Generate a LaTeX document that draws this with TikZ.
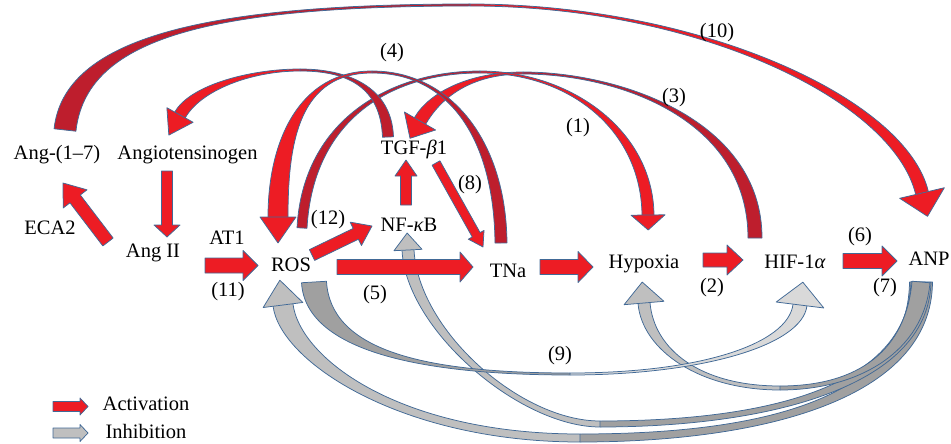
\documentclass[tikz,border=0pt]{standalone}
\usepackage{fontspec}
\setmainfont{Liberation Serif}
\usetikzlibrary{calc}
\definecolor{redF}{RGB}{237,28,36}
\definecolor{redB}{RGB}{190,30,45}
\definecolor{edgeC}{RGB}{65,105,150}
\definecolor{grayL}{RGB}{191,191,191}
\definecolor{grayD}{RGB}{160,160,160}
\definecolor{grayH}{RGB}{217,217,217}
% one half of a tapered ribbon: fill, A, B, C, D, half-width at A, half-width at D
\newcommand\ribHalf[7]{%
  \coordinate (rAl) at ($(#2)!#6!90:(#3)$);
  \coordinate (rAr) at ($(#2)!#6!-90:(#3)$);
  \coordinate (rDl) at ($(#5)!#7!-90:(#4)$);
  \coordinate (rDr) at ($(#5)!#7!90:(#4)$);
  \coordinate (rBl) at ($(#3)+(rAl)-(#2)$);
  \coordinate (rBr) at ($(#3)+(rAr)-(#2)$);
  \coordinate (rCl) at ($(#4)+(rDl)-(#5)$);
  \coordinate (rCr) at ($(#4)+(rDr)-(#5)$);
  \fill[#1] (rAl) .. controls (rBl) and (rCl) .. (rDl) -- (rDr) .. controls (rCr) and (rBr) .. (rAr) -- cycle;
  \draw[outl] (rAr) -- (rAl) .. controls (rBl) and (rCl) .. (rDl);
  \draw[outl] (rAr) .. controls (rBr) and (rCr) .. (rDr);
}
% arrow head at the end D of a ribbon coming from control C
\newcommand\arcHead[5]{%
  \path[outl, fill=#1] ($(#3)!#4!90:(#2)$) -- ($(#3)!-#5!(#2)$) -- ($(#3)!#4!-90:(#2)$) -- cycle;
}
% straight block arrow: fill, S, T, shaft half-width, head half-width, head length
\newcommand\blockArr[6]{%
  \coordinate (bB) at ($(#3)!#6!(#2)$);
  \path[outl, fill=#1] ($(#2)!#4!90:(#3)$) -- ($(bB)!#4!90:(#3)$) -- ($(bB)!#5!90:(#3)$) -- (#3) -- ($(bB)!#5!-90:(#3)$) -- ($(bB)!#4!-90:(#3)$) -- ($(#2)!#4!-90:(#3)$) -- cycle;
}
\begin{document}
\begin{tikzpicture}[x=1pt,y=-1pt,
  outl/.style={draw=edgeC, line width=0.75pt, line join=round},
  lbl/.style={inner sep=0pt, font=\fontsize{20.5}{22}\selectfont}]
\useasboundingbox (0,0) rectangle (951,444);

% ---------- inhibition (gray) curved arrows ----------
\coordinate (anpT) at (921,282);
\coordinate (rosB) at (283,305);
\coordinate (nfkB) at (408,250);
\coordinate (hypB) at (644,303);
\coordinate (rosT2) at (314,282);
\coordinate (hifB) at (800,305);
% ANP -> ROS
\ribHalf{grayD}{anpT}{920,400}{760,438}{580,438}{11.5pt}{4pt}
\ribHalf{grayL}{580,438}{400,438}{290,360}{rosB}{4pt}{10pt}
\arcHead{grayL}{290,360}{rosB}{20pt}{25pt}
% ANP -> NF-kB
\ribHalf{grayD}{anpT}{918,390}{760,424}{600,424}{10pt}{3pt}
\ribHalf{grayL}{600,424}{520,424}{412,330}{nfkB}{3pt}{6pt}
\arcHead{grayL}{412,330}{nfkB}{14pt}{17pt}
% ANP -> Hypoxia
\ribHalf{grayD}{anpT}{915,350}{860,388}{780,388}{9pt}{2pt}
\ribHalf{grayL}{780,388}{700,388}{648,350}{hypB}{2pt}{6pt}
\arcHead{grayL}{648,350}{hypB}{20pt}{21pt}
% ROS -> HIF-1a (9)
\ribHalf{grayD}{rosT2}{318,350}{420,374}{570,374}{12.5pt}{1pt}
\ribHalf{grayH}{570,374}{700,374}{795,345}{hifB}{1pt}{7pt}
\arcHead{grayH}{795,345}{hifB}{24pt}{23pt}

% ---------- activation (red) curved arrows ----------
\coordinate (angsT) at (65,130);
\coordinate (anpH) at (922,193);
\coordinate (tgfT) at (388,137);
\coordinate (agtH) at (180,115);
\coordinate (tnaT) at (501,243);
\coordinate (rosH) at (278,217);
\coordinate (rosT) at (302,228);
\coordinate (hypH) at (648,215);
\coordinate (hifT) at (755,238);
\coordinate (tgfH) at (420,121);
% (10) Ang-(1-7) -> ANP
\ribHalf{redB}{angsT}{75,40}{200,5}{470,5}{11pt}{1pt}
\ribHalf{redF}{470,5}{700,5}{900,100}{anpH}{1pt}{6.5pt}
\arcHead{redF}{900,100}{anpH}{23pt}{24pt}
% (3) HIF-1a -> TGF-b1
\ribHalf{redB}{hifT}{755,120}{620,73}{523,73}{7pt}{1pt}
\ribHalf{redF}{523,73}{470,73}{435,95}{tgfH}{1pt}{6.5pt}
\arcHead{redF}{435,95}{tgfH}{18pt}{20pt}
% (1) ROS -> Hypoxia
\ribHalf{redB}{rosT}{308,120}{390,72}{480,72}{5pt}{1pt}
\ribHalf{redF}{480,72}{570,72}{647,130}{hypH}{1pt}{6pt}
\arcHead{redF}{647,130}{hypH}{17pt}{15pt}
% TGF-b1 -> Angiotensinogen
\ribHalf{redB}{tgfT}{386,85}{345,70}{300,70}{5.5pt}{1pt}
\ribHalf{redF}{300,70}{250,70}{195,88}{agtH}{1pt}{6pt}
\arcHead{redF}{195,88}{agtH}{15pt}{23pt}
% (4) TNa -> ROS
\ribHalf{redB}{tnaT}{500,140}{450,72}{372,72}{6pt}{1pt}
\ribHalf{redF}{372,72}{300,72}{278,140}{rosH}{1pt}{10pt}
\arcHead{redF}{278,140}{rosH}{18pt}{26pt}

% ---------- straight arrows ----------
\coordinate (ecaS) at (108,242);   \coordinate (ecaT) at (63,183);
\coordinate (agtS) at (167,171);   \coordinate (agtT) at (167,237);
\coordinate (at1S) at (205,265.5); \coordinate (at1T) at (258,265.5);
\coordinate (r12S) at (312,255);   \coordinate (r12T) at (372,226);
\coordinate (nftS) at (406,205);   \coordinate (nftT) at (406,160);
\coordinate (tg8S) at (436,163);   \coordinate (tg8T) at (483,247);
\coordinate (r5S) at (337,267);    \coordinate (r5T) at (473,267);
\coordinate (tnS) at (540,267);    \coordinate (tnT) at (593,267);
\coordinate (hyS) at (703,260);    \coordinate (hyT) at (743,260);
\coordinate (hiS) at (843,261);    \coordinate (hiT) at (897,261);
\blockArr{redF}{ecaS}{ecaT}{6.5pt}{15pt}{20pt}
\blockArr{redF}{agtS}{agtT}{5.5pt}{13pt}{12pt}
\blockArr{redF}{at1S}{at1T}{7.5pt}{15pt}{15pt}
\blockArr{redF}{r12S}{r12T}{6pt}{13pt}{18pt}
\blockArr{redF}{nftS}{nftT}{5.5pt}{11pt}{16pt}
\blockArr{redF}{tg8S}{tg8T}{4.5pt}{9pt}{14pt}
\blockArr{redF}{r5S}{r5T}{7.5pt}{15pt}{13pt}
\blockArr{redF}{tnS}{tnT}{7.5pt}{15.5pt}{15pt}
\blockArr{redF}{hyS}{hyT}{7pt}{15pt}{16pt}
\blockArr{redF}{hiS}{hiT}{7.5pt}{15pt}{15pt}
% legend
\coordinate (lgaS) at (53,406.5); \coordinate (lgaT) at (88,406.5);
\coordinate (lgiS) at (53,433);   \coordinate (lgiT) at (88,433);
\blockArr{redF}{lgaS}{lgaT}{5pt}{8.5pt}{8pt}
\blockArr{grayL}{lgiS}{lgiT}{5pt}{8.5pt}{8pt}

% ---------- labels ----------
\node[lbl] (angs) at (57,155) {Ang-(1–7)};
\node[lbl] (agt) at (187.5,155) {Angiotensinogen};
\node[lbl] (tgf) at (414,149) {TGF-\textit{β}1};
\node[lbl] (eca) at (50,228) {ECA2};
\node[lbl] (ang2) at (153,253) {Ang II};
\node[lbl] (at1) at (227,238) {AT1};
\node[lbl] (n11) at (228,292) {(11)};
\node[lbl] (ros) at (291,265) {ROS};
\node[lbl] (n12) at (328,220) {(12)};
\node[lbl] (nfk) at (409,225) {NF-\textit{κ}B};
\node[lbl] (n8) at (470,185) {(8)};
\node[lbl] (tna) at (508,271) {TNa};
\node[lbl] (n5) at (375,295) {(5)};
\node[lbl] (hyp) at (644,264) {Hypoxia};
\node[lbl] (n2) at (712,288) {(2)};
\node[lbl] (hif) at (795,262) {HIF-1\textit{α}};
\node[lbl] (n6) at (860,237) {(6)};
\node[lbl] (n7) at (885,288) {(7)};
\node[lbl] (anp) at (929,259) {ANP};
\node[lbl] (n9) at (560,356) {(9)};
\node[lbl] (n4) at (392,53) {(4)};
\node[lbl] (n1) at (578,128) {(1)};
\node[lbl] (n3) at (674,98) {(3)};
\node[lbl] (n10) at (717,33) {(10)};
\node[lbl] (act) at (146,404) {Activation};
\node[lbl] (inh) at (146,431) {Inhibition};
\end{tikzpicture}
\end{document}
